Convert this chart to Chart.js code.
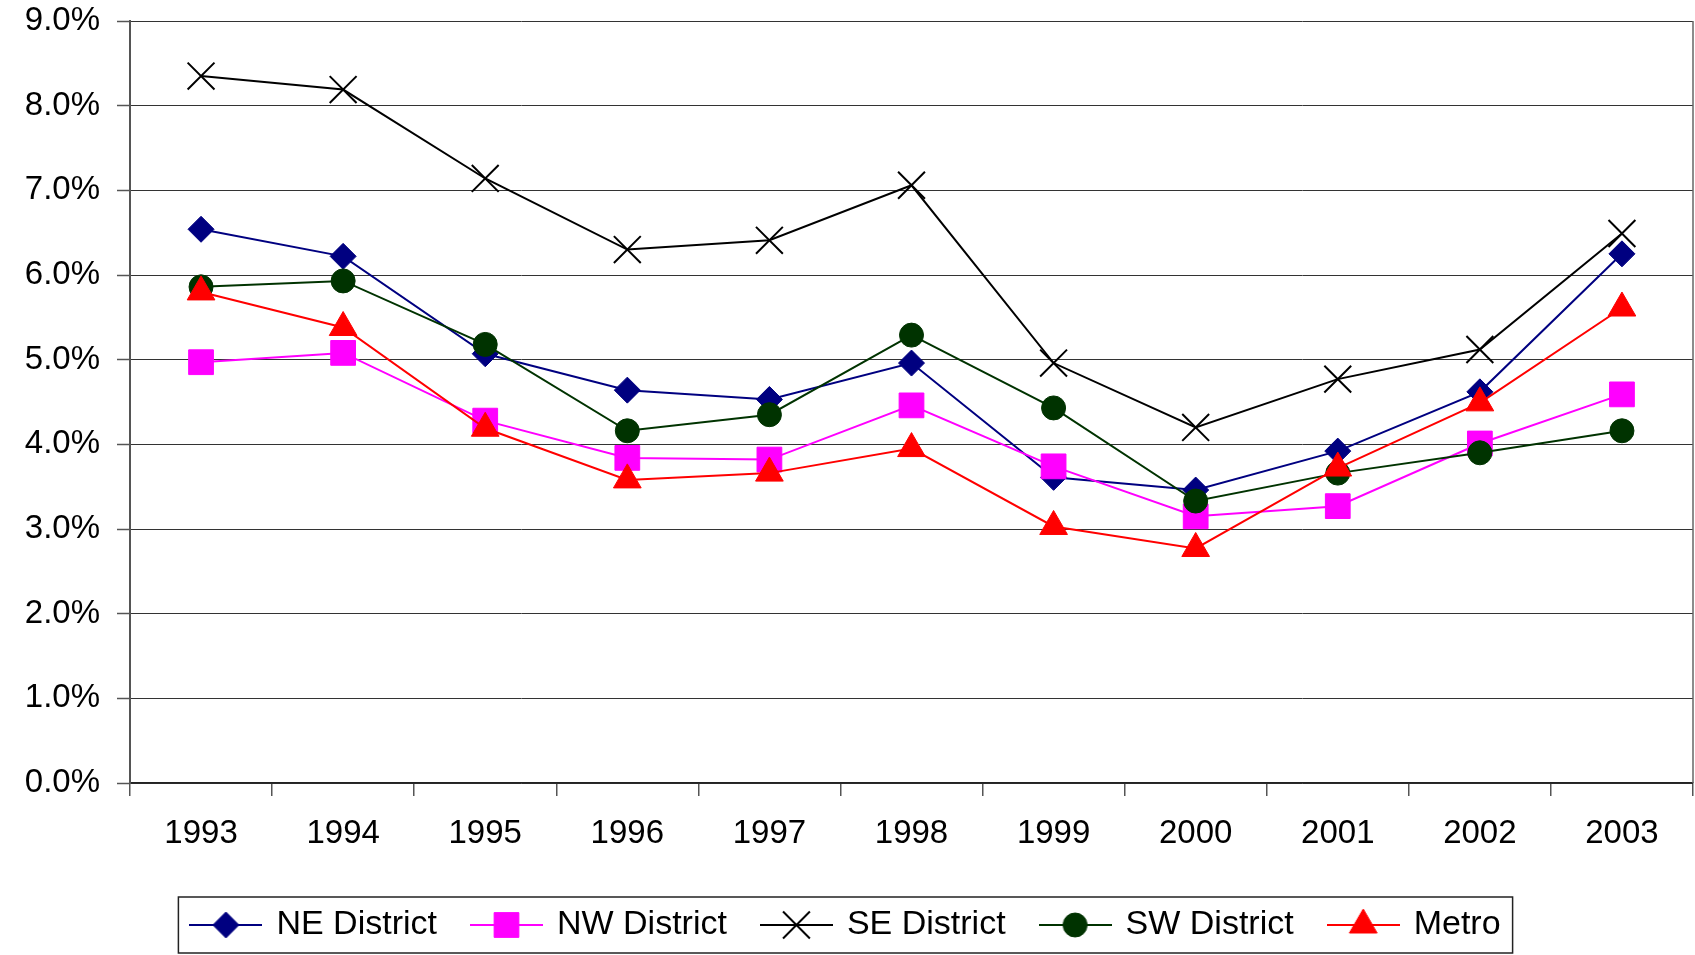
<!DOCTYPE html>
<html>
<head>
<meta charset="utf-8">
<script src="https://cdn.jsdelivr.net/npm/chart.js@4.4.0/dist/chart.umd.min.js"></script>
<style>
    html, body { margin: 0; padding: 0; background: #fff; }
    #wrap { width: 1695px; height: 955px; }
</style>
</head>
<body>
<div id="wrap"><canvas id="rateChart" width="1695" height="955"></canvas></div>
<script>
// Chart values (percent)
const years = ['1993', '1994', '1995', '1996', '1997', '1998', '1999', '2000', '2001', '2002', '2003'];
const neDistrict = [6.54, 6.22, 5.07, 4.64, 4.53, 4.96, 3.61, 3.46, 3.92, 4.62, 6.25];
const nwDistrict = [4.97, 5.08, 4.28, 3.84, 3.82, 4.46, 3.74, 3.15, 3.27, 4.01, 4.59];
const seDistrict = [8.35, 8.19, 7.14, 6.30, 6.41, 7.06, 4.96, 4.20, 4.77, 5.12, 6.49];
const swDistrict = [5.86, 5.93, 5.18, 4.16, 4.35, 5.29, 4.43, 3.33, 3.66, 3.90, 4.16];
const metro = [5.80, 5.38, 4.19, 3.58, 3.66, 3.95, 3.03, 2.77, 3.72, 4.49, 5.61];
const seriesNames = ['NE District', 'NW District', 'SE District', 'SW District', 'Metro'];
const yTickLabels = ['0.0%', '1.0%', '2.0%', '3.0%', '4.0%', '5.0%', '6.0%', '7.0%', '8.0%', '9.0%'];

const FONT = '"Liberation Sans", Arial, sans-serif';

// Marker styles per series
const styles = [
    { color: '#000080', point: 'rectRot', radius: 13, border: 1 },
    { color: '#FF00FF', point: 'rect', radius: 17.5, border: 1 },
    { color: '#000000', point: 'crossRot', radius: 19, border: 2 },
    { color: '#003300', point: 'circle', radius: 12, border: 1 },
    { color: '#FF0000', point: 'triangle', radius: 16, border: 1 }
];

// Small canvas with line + marker for the legend
function legendIcon(style) {
    const c = document.createElement('canvas');
    c.width = 73;
    c.height = 34;
    const ctx = c.getContext('2d');
    ctx.strokeStyle = style.color;
    ctx.fillStyle = style.color;
    ctx.lineWidth = 2;
    ctx.beginPath();
    ctx.moveTo(0, 17);
    ctx.lineTo(73, 17);
    ctx.stroke();
    ctx.lineWidth = style.border;
    Chart.helpers.drawPoint(ctx, {
        pointStyle: style.point,
        radius: style.radius,
        borderWidth: style.border,
        rotation: 0
    }, 36.5, 17);
    return c;
}

// Legend frame + plot right border
const framePlugin = {
    id: 'frame',
    afterDraw(chart) {
        const ctx = chart.ctx;
        const area = chart.chartArea;
        ctx.save();
        ctx.strokeStyle = '#666';
        ctx.lineWidth = 1.5;
        ctx.beginPath();
        ctx.moveTo(area.right, area.top);
        ctx.lineTo(area.right, area.bottom);
        ctx.stroke();

        const boxes = chart.legend.legendHitBoxes;
        if (boxes && boxes.length) {
            const first = boxes[0];
            const last = boxes[boxes.length - 1];
            const cy = first.top + first.height / 2;
            ctx.strokeStyle = '#222';
            ctx.lineWidth = 1.5;
            ctx.strokeRect(first.left - 14, cy - 28, last.left + last.width + 12 - (first.left - 14), 56);
        }
        ctx.restore();
    }
};

const seriesData = [neDistrict, nwDistrict, seDistrict, swDistrict, metro];

const ctx = document.getElementById('rateChart').getContext('2d');
new Chart(ctx, {
    type: 'line',
    data: {
        labels: years,
        datasets: seriesData.map((values, i) => ({
            label: seriesNames[i],
            data: values,
            borderColor: styles[i].color,
            backgroundColor: styles[i].color,
            borderWidth: 2,
            tension: 0,
            pointStyle: styles[i].point,
            pointRadius: styles[i].radius,
            pointBorderWidth: styles[i].border,
            pointBorderColor: styles[i].color,
            pointBackgroundColor: styles[i].color,
            order: seriesData.length - 1 - i
        }))
    },
    options: {
        responsive: false,
        animation: false,
        events: [],
        layout: {
            autoPadding: false,
            padding: { top: 21, right: 2, bottom: 3, left: 0 }
        },
        scales: {
            x: {
                offset: true,
                grid: {
                    offset: true,
                    drawOnChartArea: false,
                    drawTicks: true,
                    tickLength: 13,
                    color: '#555',
                    lineWidth: 1.5
                },
                border: { color: '#222', width: 1.5 },
                ticks: {
                    color: '#000',
                    padding: 18,
                    maxRotation: 0,
                    font: { family: FONT, size: 33 }
                },
                afterFit(scale) {
                    scale.height = 89;
                    scale.paddingLeft = 0;
                    scale.paddingRight = 0;
                }
            },
            y: {
                min: 0,
                max: 9,
                grid: {
                    color: '#333',
                    lineWidth: 1,
                    drawTicks: true,
                    tickLength: 13,
                    tickColor: '#555',
                    tickWidth: 1.5
                },
                border: { color: '#555', width: 2 },
                ticks: {
                    stepSize: 1,
                    color: '#000',
                    padding: 17,
                    font: { family: FONT, size: 33 },
                    callback: (value, index) => yTickLabels[index]
                },
                afterFit(scale) {
                    scale.width = 130;
                    scale.paddingTop = 0;
                    scale.paddingBottom = 0;
                }
            }
        },
        plugins: {
            tooltip: { enabled: false },
            legend: {
                position: 'bottom',
                labels: {
                    usePointStyle: true,
                    pointStyleWidth: 67,
                    padding: 36,
                    color: '#000',
                    font: { family: FONT, size: 34 },
                    generateLabels: function(chart) {
                        return chart.data.datasets.map((ds, i) => ({
                            text: ds.label,
                            pointStyle: legendIcon(styles[i]),
                            fillStyle: styles[i].color,
                            strokeStyle: styles[i].color,
                            lineWidth: 0,
                            hidden: false,
                            datasetIndex: i,
                            fontColor: '#000'
                        }));
                    }
                }
            }
        }
    },
    plugins: [framePlugin]
});
</script>
</body>
</html>
